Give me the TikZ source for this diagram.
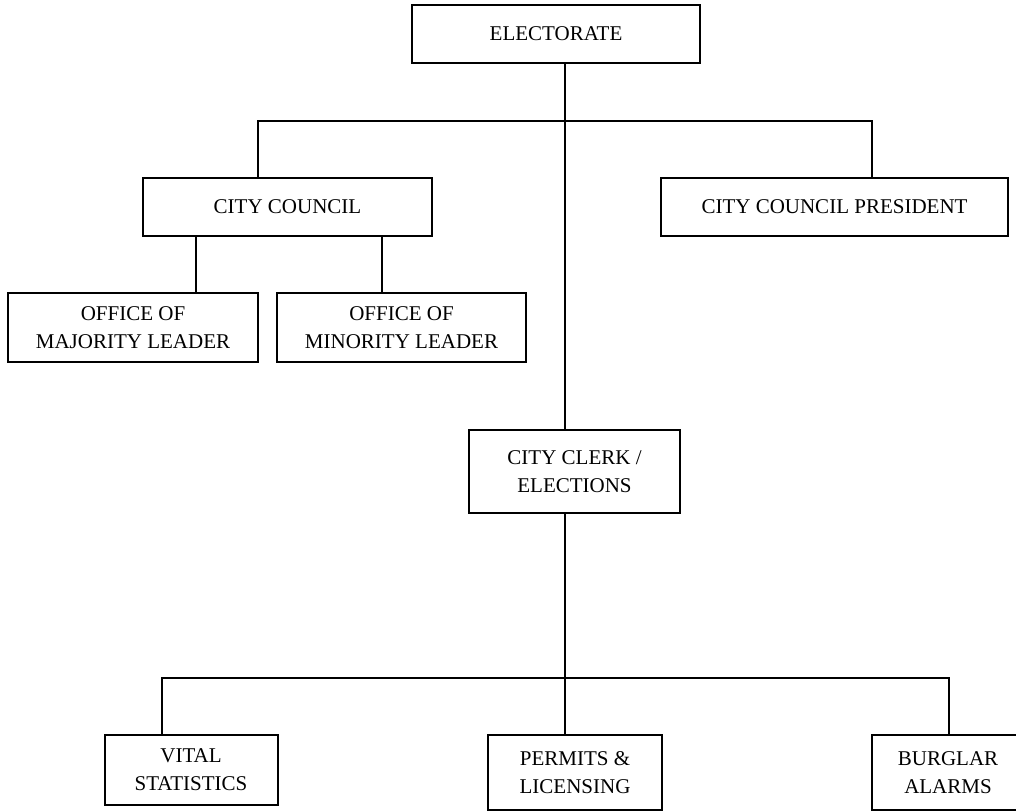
\documentclass[tikz,border=0pt]{standalone}
\usepackage{fontspec}
\setmainfont{Liberation Serif}
\usetikzlibrary{calc}
\tikzset{
  office/.style={draw,line width=1.5pt,align=center,inner sep=0pt,font=\fontsize{15.75}{21}\selectfont},
  link/.style={line width=1.5pt}
}

\begin{document}
\begin{tikzpicture}[x=0.75pt,y=-0.75pt]
\useasboundingbox (0,0) rectangle (1016,812);
\clip (0,0) rectangle (1016,812);
% boxes
\node[office,minimum width=216pt,minimum height=43.5pt] (elect) at (556,34) {ELECTORATE};
\node[office,minimum width=216.75pt,minimum height=43.5pt] (council) at (287.5,207) {CITY COUNCIL};
\node[office,minimum width=260.25pt,minimum height=43.5pt] (pres) at (834.5,207) {CITY COUNCIL PRESIDENT};
\node[office,minimum width=187.5pt,minimum height=51.75pt] (major) at (133,327.5) {OFFICE OF\\MAJORITY LEADER};
\node[office,minimum width=186.75pt,minimum height=51.75pt] (minor) at (401.5,327.5) {OFFICE OF\\MINORITY LEADER};
\node[office,minimum width=158.25pt,minimum height=62.25pt] (clerk) at (574.5,471.5) {CITY CLERK /\\ELECTIONS};
\node[office,minimum width=129.75pt,minimum height=52.5pt] (vital) at (191,770) {VITAL\\STATISTICS};
\node[office,minimum width=130.5pt,minimum height=56.25pt] (permits) at (575,772.5) {PERMITS \&\\LICENSING};
\node[office,minimum width=114pt,minimum height=56.25pt] (burglar) at (948,772.5) {BURGLAR\\ALARMS};
% junctions
\coordinate (spine) at (565,121);
\coordinate (cj) at (258,121); \coordinate (pj) at (872,121);
\coordinate (mj) at (196,293); \coordinate (nj) at (382,293);
\coordinate (vj) at (162,678); \coordinate (bj) at (949,678);
% lines
\draw[link] (elect.south -| spine) -- (clerk.north -| spine);
\draw[link] (clerk.south -| spine) -- (permits.north -| spine);
\draw[link] (council.north -| cj) -- (cj) -- (pj) -- (pres.north -| pj);
\draw[link] (council.south -| mj) -- (mj);
\draw[link] (council.south -| nj) -- (nj);
\draw[link] (vital.north -| vj) -- (vj) -- (bj) -- (burglar.north -| bj);
\end{tikzpicture}
\end{document}
